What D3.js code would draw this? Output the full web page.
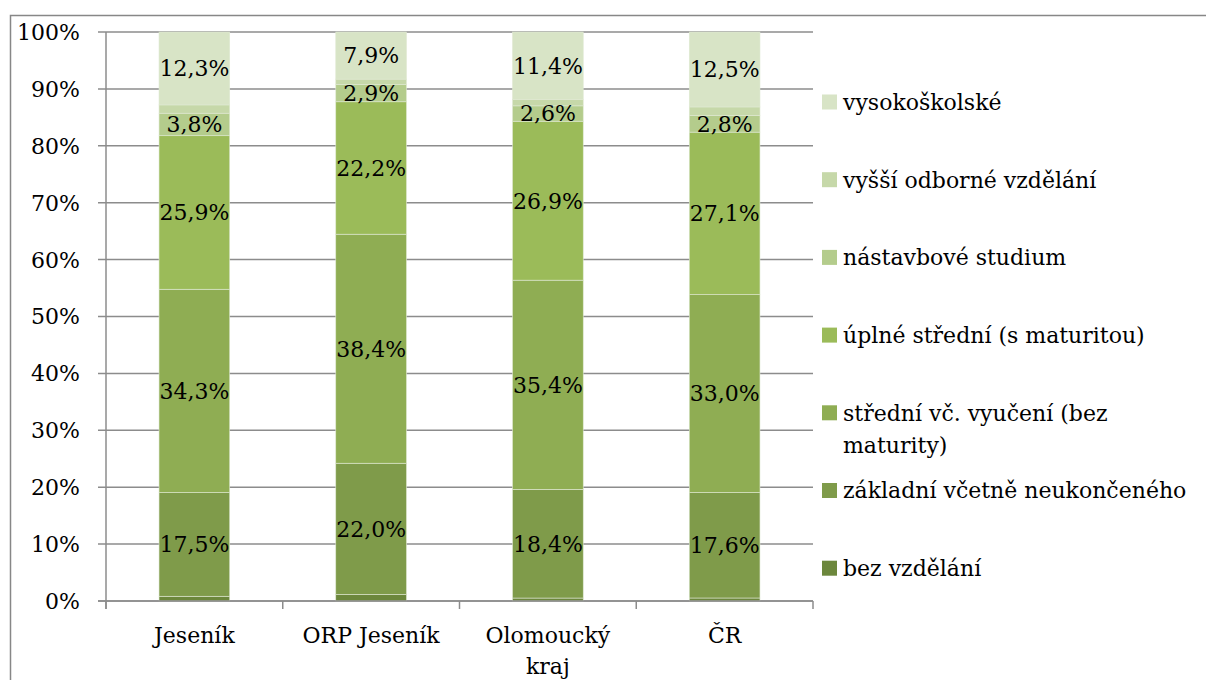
<!DOCTYPE html>
<html>
<head>
<meta charset="utf-8">
<script src="https://cdn.jsdelivr.net/npm/d3@7"></script>
<style>
  body { margin: 0; background: #fff; }
  svg text { font-family: "DejaVu Serif", serif; fill: #000; }
</style>
</head>
<body>
<svg id="chart" width="1206" height="680"></svg>
<script>
// regions
const regions = ["Jeseník", "ORP Jeseník", "Olomoucký kraj", "ČR"]
// series from bottom to top
const levels = ["bez vzdělání", "základní včetně neukončeného", "střední vč. vyučení (bez maturity)",
  "úplné střední (s maturitou)", "nástavbové studium", "vyšší odborné vzdělání", "vysokoškolské"]
// shares in % (unknown education left out, so chart normalizes to 100 %)
const bezVzdelani = [0.8, 1.1, 0.5, 0.5]
const zakladni = [17.5, 22.0, 18.4, 17.6]
const stredni = [34.3, 38.4, 35.4, 33.0]
const uplneStredni = [25.9, 22.2, 26.9, 27.1]
const nastavbove = [3.8, 2.9, 2.6, 2.8]
const vyssiOdborne = [1.4, 0.9, 1.1, 1.4]
const vysokoskolske = [12.3, 7.9, 11.4, 12.5]
const yTicks = [0, 0.1, 0.2, 0.3, 0.4, 0.5, 0.6, 0.7, 0.8, 0.9, 1]
// which series get a value label
const labelled = [false, true, true, true, true, false, true]

const colors = ["#6c873c", "#7f9b4a", "#8fad53", "#9bbb59", "#b4cc8c", "#c6d8a9", "#d8e4c6"]
const fs = "22px"

const seriesVals = [bezVzdelani, zakladni, stredni, uplneStredni, nastavbove, vyssiOdborne, vysokoskolske]
const rows = regions.map((r, i) => {
  const o = {region: r}
  levels.forEach((l, j) => o[l] = seriesVals[j][i])
  return o
})

const svg = d3.select("#chart")
const margin = {top: 32, left: 106}
const plotW = 707, plotH = 569

// outer frame
svg.append("path")
  .attr("d", "M10.5,680 V15.5 H1206")
  .attr("fill", "none").attr("stroke", "#878787").attr("stroke-width", 1.5)

const g = svg.append("g").attr("transform", "translate(" + margin.left + "," + margin.top + ")")

const x = d3.scaleBand().domain(regions).range([0, plotW]).paddingInner(0.6).paddingOuter(0.3)
const y = d3.scaleLinear().domain([0, 1]).range([plotH, 0])

// gridlines
g.selectAll(".grid").data(yTicks).enter().append("line")
  .attr("x1", -8).attr("x2", plotW)
  .attr("y1", d => y(d)).attr("y2", d => y(d))
  .attr("stroke", "#8c8c8c").attr("stroke-width", 1.5)

// y labels
g.selectAll(".ylab").data(yTicks).enter().append("text")
  .attr("x", -26).attr("y", d => y(d))
  .attr("dy", "0.36em")
  .attr("text-anchor", "end")
  .style("font-size", fs)
  .text(d => d3.format(".0%")(d))

const stack = d3.stack().keys(levels).offset(d3.stackOffsetExpand)
const stacked = stack(rows)

const layer = g.selectAll(".layer").data(stacked).enter().append("g")
  .attr("fill", (d, i) => colors[i])

layer.selectAll("rect").data(d => d).enter().append("rect")
  .attr("x", d => x(d.data.region))
  .attr("width", x.bandwidth())
  .attr("y", d => y(d[1]))
  .attr("height", d => y(d[0]) - y(d[1]))
  .attr("stroke", "#dfe8d2").attr("stroke-width", 0.6)

// value labels
stacked.forEach((s, i) => {
  if (!labelled[i]) return
  g.selectAll(".lab" + i).data(s).enter().append("text")
    .attr("x", d => x(d.data.region) + x.bandwidth() / 2)
    .attr("y", d => y((d[0] + d[1]) / 2))
    .attr("dy", "0.36em")
    .attr("text-anchor", "middle")
    .style("font-size", fs)
    .text(d => d3.format(".1f")(d.data[s.key]).replace(".", ",") + "%")
})

// axes lines
g.append("line").attr("x1", 0).attr("x2", 0).attr("y1", 0).attr("y2", plotH + 8)
  .attr("stroke", "#8c8c8c").attr("stroke-width", 1.5)
g.append("line").attr("x1", -8).attr("x2", plotW).attr("y1", plotH).attr("y2", plotH)
  .attr("stroke", "#8c8c8c").attr("stroke-width", 1.5)
d3.range(regions.length + 1).forEach(i => {
  g.append("line").attr("x1", i * plotW / regions.length).attr("x2", i * plotW / regions.length)
    .attr("y1", plotH).attr("y2", plotH + 8)
    .attr("stroke", "#8c8c8c").attr("stroke-width", 1.5)
})

// category labels
const xl = g.selectAll(".xlab").data(regions).enter().append("text")
  .attr("x", d => x(d) + x.bandwidth() / 2)
  .attr("y", plotH + 34)
  .attr("text-anchor", "middle")
  .style("font-size", fs)
xl.each(function(d) {
  const words = d === "Olomoucký kraj" ? ["Olomoucký", "kraj"] : [d]
  const t = d3.select(this)
  words.forEach((w, k) => {
    t.append("tspan").attr("x", x(d) + x.bandwidth() / 2).attr("dy", k === 0 ? "0.36em" : "1.4em").text(w)
  })
})

// legend, top item first
const legLines = [["vysokoškolské"], ["vyšší odborné vzdělání"], ["nástavbové studium"],
  ["úplné střední (s maturitou)"], ["střední vč. vyučení (bez", "maturity)"],
  ["základní včetně neukončeného"], ["bez vzdělání"]]
const leg = svg.append("g").attr("transform", "translate(822,102)")
legLines.forEach((lines, k) => {
  const idx = levels.length - 1 - k
  const row = leg.append("g").attr("transform", "translate(0," + (k * 77.7) + ")")
  row.append("rect").attr("x", 0).attr("y", -7.5).attr("width", 15).attr("height", 15)
    .attr("fill", colors[idx])
  const t = row.append("text").attr("x", 21).attr("y", 0).style("font-size", fs)
  lines.forEach((ln, j) => {
    t.append("tspan").attr("x", 21).attr("dy", j === 0 ? "0.36em" : "1.45em").text(ln)
  })
})
</script>
</body>
</html>
